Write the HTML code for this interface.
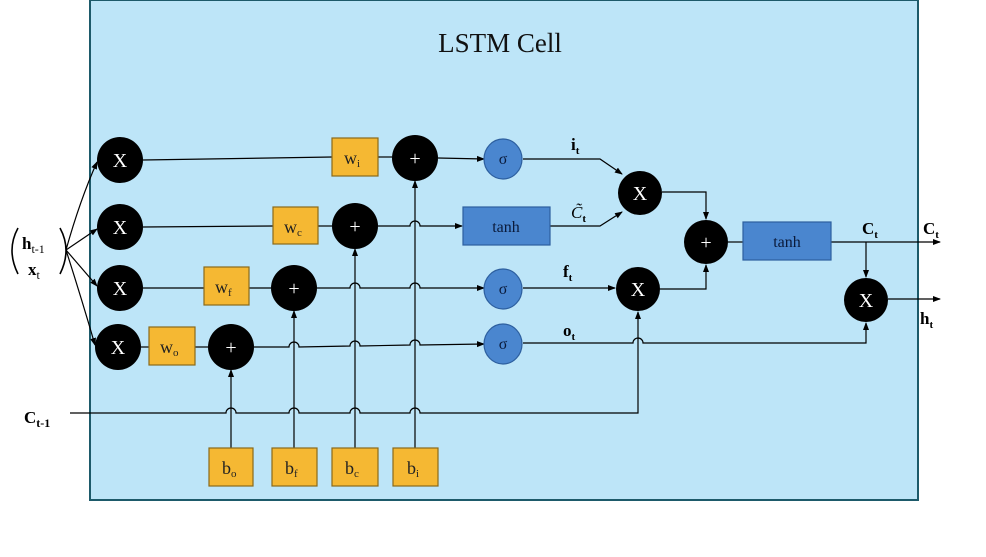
<!DOCTYPE html>
<html><head><meta charset="utf-8"><style>
html,body{margin:0;padding:0;background:#fff;}
svg{display:block;font-family:"Liberation Serif",serif;}
</style></head><body>
<svg width="986" height="557" viewBox="0 0 986 557" xmlns="http://www.w3.org/2000/svg">
<defs>
<marker id="a" markerWidth="8" markerHeight="8" refX="7" refY="4" orient="auto" markerUnits="userSpaceOnUse">
<path d="M0,1 L8,4 L0,7 z" fill="#000"/></marker>
</defs>
<rect x="90" y="0" width="828" height="500" fill="#bde5f8" stroke="#1d5a6a" stroke-width="2"/>
<text x="500" y="52" font-size="27" text-anchor="middle" fill="#111">LSTM Cell</text>

<g fill="none" stroke="#000" stroke-width="1.2">
<!-- fan from bracket -->
<path d="M66,250 Q80,200 97,162" marker-end="url(#a)"/>
<path d="M66,250 L97,229" marker-end="url(#a)"/>
<path d="M66,250 L97,286" marker-end="url(#a)"/>
<path d="M66,250 Q82,300 95,345" marker-end="url(#a)"/>
<!-- row i -->
<path d="M143,160 L332,157"/><path d="M378,157 L392,157"/>
<path d="M438,158 L484,159" marker-end="url(#a)"/>
<!-- row c -->
<path d="M143,227 L273,226"/><path d="M318,226 L332,226"/>
<path d="M378,226 L410,226 a5,5 0 0 1 10,0 L462,226" marker-end="url(#a)"/>
<!-- row f -->
<path d="M143,288 L204,288"/><path d="M249,288 L271,288"/>
<path d="M317,288 L350,288 a5,5 0 0 1 10,0 L410,288 a5,5 0 0 1 10,0 L484,288" marker-end="url(#a)"/>
<!-- row o -->
<path d="M141,347 L149,347"/><path d="M195,347 L208,347"/>
<path d="M254,347 L289,347 a5,5 0 0 1 10,0 L350,346 a5,5 0 0 1 10,0 L410,345 a5,5 0 0 1 10,0 L484,344" marker-end="url(#a)"/>
<!-- C t-1 -->
<path d="M70,413 L226,413 a5,5 0 0 1 10,0 L289,413 a5,5 0 0 1 10,0 L350,413 a5,5 0 0 1 10,0 L410,413 a5,5 0 0 1 10,0 L638,413 L638,312" marker-end="url(#a)"/>
<!-- bias lines -->
<path d="M231,448 L231,370" marker-end="url(#a)"/>
<path d="M294,448 L294,311" marker-end="url(#a)"/>
<path d="M355,448 L355,249" marker-end="url(#a)"/>
<path d="M415,448 L415,181" marker-end="url(#a)"/>
<!-- gates to multipliers -->
<path d="M523,159 L600,159 L622,174" marker-end="url(#a)"/>
<path d="M550,226 L600,226 L622,212" marker-end="url(#a)"/>
<path d="M523,288 L615,288" marker-end="url(#a)"/>
<path d="M523,343 L633,343 a5,5 0 0 1 10,0 L866,343 L866,323" marker-end="url(#a)"/>
<!-- to + -->
<path d="M662,192 L706,192 L706,219" marker-end="url(#a)"/>
<path d="M660,289 L706,289 L706,265" marker-end="url(#a)"/>
<path d="M728,242 L743,242"/>
<!-- output -->
<path d="M831,242 L940,242" marker-end="url(#a)"/>
<path d="M866,242 L866,277" marker-end="url(#a)"/>
<path d="M888,299 L940,299" marker-end="url(#a)"/>
</g>

<!-- black circles -->
<g fill="#000">
<circle cx="120" cy="160" r="23"/><circle cx="120" cy="227" r="23"/>
<circle cx="120" cy="288" r="23"/><circle cx="118" cy="347" r="23"/>
<circle cx="415" cy="158" r="23"/><circle cx="355" cy="226" r="23"/>
<circle cx="294" cy="288" r="23"/><circle cx="231" cy="347" r="23"/>
<circle cx="640" cy="193" r="22"/><circle cx="638" cy="289" r="22"/>
<circle cx="706" cy="242" r="22"/><circle cx="866" cy="300" r="22"/>
</g>
<g fill="#fff" font-size="20" text-anchor="middle">
<text x="120" y="167">X</text><text x="120" y="234">X</text>
<text x="120" y="295">X</text><text x="118" y="354">X</text>
<text x="640" y="200">X</text><text x="638" y="296">X</text>
<text x="866" y="307">X</text>
<text x="415" y="165">+</text><text x="355" y="233">+</text>
<text x="294" y="295">+</text><text x="231" y="354">+</text>
<text x="706" y="249">+</text>
</g>

<!-- sigma -->
<g fill="#4a86cf" stroke="#2d5f9f" stroke-width="1.2">
<ellipse cx="503" cy="159" rx="19" ry="20"/>
<ellipse cx="503" cy="289" rx="19" ry="20"/>
<ellipse cx="503" cy="344" rx="19" ry="20"/>
<rect x="463" y="207" width="87" height="38"/>
<rect x="743" y="222" width="88" height="38"/>
</g>
<g font-size="16" text-anchor="middle" fill="#0a1a3a">
<text x="503" y="164">σ</text><text x="503" y="294">σ</text><text x="503" y="349">σ</text>
<text x="506" y="232">tanh</text><text x="787" y="247">tanh</text>
</g>

<!-- yellow boxes -->
<g fill="#f5b833" stroke="#8a6a1a" stroke-width="1.2">
<rect x="332" y="138" width="46" height="38"/>
<rect x="273" y="207" width="45" height="37"/>
<rect x="204" y="267" width="45" height="38"/>
<rect x="149" y="327" width="46" height="38"/>
<rect x="209" y="448" width="44" height="38"/>
<rect x="272" y="448" width="45" height="38"/>
<rect x="332" y="448" width="46" height="38"/>
<rect x="393" y="448" width="45" height="38"/>
</g>
<g font-size="18" fill="#222">
<text x="344" y="164">w<tspan font-size="11" dy="3">i</tspan></text>
<text x="284" y="233">w<tspan font-size="11" dy="3">c</tspan></text>
<text x="215" y="293">w<tspan font-size="11" dy="3">f</tspan></text>
<text x="160" y="353">w<tspan font-size="11" dy="3">o</tspan></text>
<text x="222" y="474">b<tspan font-size="11" dy="3">o</tspan></text>
<text x="285" y="474">b<tspan font-size="11" dy="3">f</tspan></text>
<text x="345" y="474">b<tspan font-size="11" dy="3">c</tspan></text>
<text x="407" y="474">b<tspan font-size="11" dy="3">i</tspan></text>
</g>

<!-- labels -->
<g font-size="17" font-weight="bold" fill="#000">
<text x="571" y="150">i<tspan font-size="11" dy="4">t</tspan></text>
<text x="571" y="218" font-style="italic" font-weight="normal">C̃<tspan font-size="11" dy="4" font-weight="bold" font-style="normal">t</tspan></text>
<text x="563" y="277">f<tspan font-size="11" dy="4">t</tspan></text>
<text x="563" y="336">o<tspan font-size="11" dy="4">t</tspan></text>
<text x="862" y="234">C<tspan font-size="11" dy="4">t</tspan></text>
<text x="923" y="234">C<tspan font-size="11" dy="4">t</tspan></text>
<text x="920" y="324">h<tspan font-size="11" dy="4">t</tspan></text>
<text x="24" y="423">C<tspan font-size="12" dy="4">t-1</tspan></text>
<text x="22" y="249">h<tspan font-size="12" dy="4" font-weight="normal">t-1</tspan></text>
<text x="28" y="275">x<tspan font-size="12" dy="4" font-weight="normal">t</tspan></text>
</g>
<path d="M18,228 Q6,250 18,274" fill="none" stroke="#000" stroke-width="1.6"/>
<path d="M60,228 Q72,250 60,274" fill="none" stroke="#000" stroke-width="1.6"/>
</svg>
</body></html>
